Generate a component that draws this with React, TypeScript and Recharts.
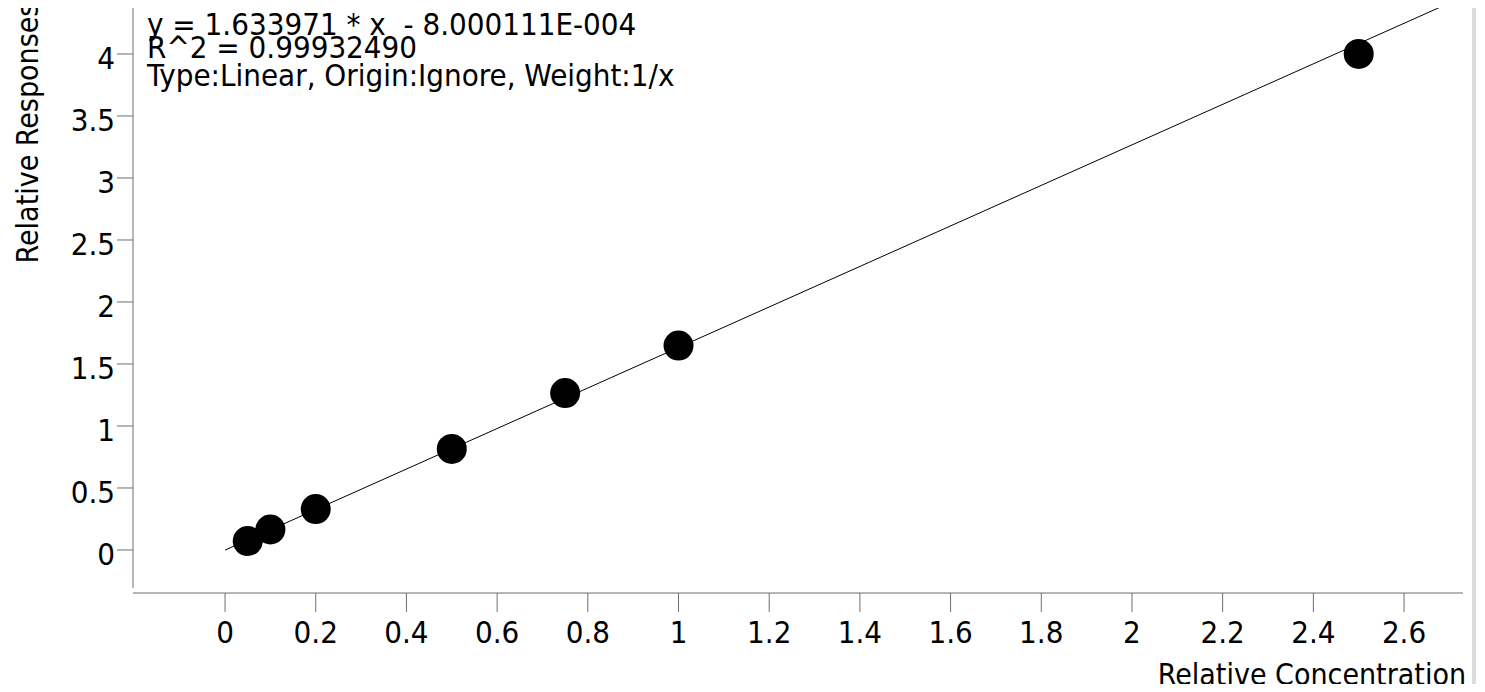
import { ScatterChart, Scatter, XAxis, YAxis, ReferenceLine } from 'recharts';

const concentrations = [0.05, 0.1, 0.2, 0.5, 0.75, 1, 2.5];
const responses = [0.072, 0.165, 0.33, 0.815, 1.265, 1.648, 4.0];
const fitX = [0, 2.68];
const fitY = [-0.0008, 4.378];
const xTicks = [0, 0.2, 0.4, 0.6, 0.8, 1, 1.2, 1.4, 1.6, 1.8, 2, 2.2, 2.4, 2.6];
const yTicks = [0, 0.5, 1, 1.5, 2, 2.5, 3, 3.5, 4];
const fitText = [
    'y = 1.633971 * x  - 8.000111E-004',
    'R^2 = 0.99932490',
    'Type:Linear, Origin:Ignore, Weight:1/x',
];

const points = concentrations.map((x, i) => ({ x, y: responses[i] }));
const fitLine = fitX.map((x, i) => ({ x, y: fitY[i] }));

const font = '"DejaVu Sans Condensed", "DejaVu Sans", sans-serif';
const baselines = [35, 58, 86];

// tick labels drawn by hand so the offsets match the original
const XTick = (p: any) => (
    <text x={p.x} y={643} textAnchor="middle" fontSize={31} fontFamily={font} fill="#000">
        {p.payload.value}
    </text>
);

const YTick = (p: any) => (
    <text x={115} y={p.y + 15} textAnchor="end" fontSize={31} fontFamily={font} fill="#000">
        {p.payload.value}
    </text>
);

export default function App() {
    return (
        <div style={{ position: 'relative', width: 1485, height: 692, margin: -8, background: '#fff' }}>
            <ScatterChart width={1485} height={692} margin={{ top: 5, right: 22, bottom: 0, left: 0 }}>
                <XAxis
                    type="number"
                    dataKey="x"
                    domain={[-0.203, 2.73]}
                    ticks={xTicks}
                    allowDataOverflow
                    height={99}
                    tickSize={19}
                    stroke="#6e6e6e"
                    tick={XTick}
                    label={{
                        content: () => (
                            <text x={1466} y={685} textAnchor="end" fontSize={30} fontFamily={font} fill="#000">
                                Relative Concentration
                            </text>
                        ),
                    }}
                />
                <YAxis
                    type="number"
                    dataKey="y"
                    domain={[-0.347, 4.395]}
                    ticks={yTicks}
                    allowDataOverflow
                    width={133}
                    tickSize={16}
                    axisLine={false}
                    stroke="#6e6e6e"
                    tick={YTick}
                    label={{
                        content: () => (
                            <text
                                x={38}
                                y={133}
                                transform="rotate(-90 38 133)"
                                textAnchor="middle"
                                fontSize={30}
                                fontFamily={font}
                                fill="#000"
                            >
                                Relative Responses
                            </text>
                        ),
                    }}
                />
                {/* y axis line stops short of the x axis, as in the original */}
                <ReferenceLine
                    segment={[{ x: -0.203, y: -0.306 }, { x: -0.203, y: 4.395 }]}
                    stroke="#6e6e6e"
                    ifOverflow="visible"
                />
                <Scatter
                    data={fitLine}
                    line={{ stroke: '#000', strokeWidth: 1 }}
                    shape={() => <g />}
                    isAnimationActive={false}
                />
                <Scatter
                    data={points}
                    shape={(p: any) => <circle cx={p.cx} cy={p.cy} r={15} fill="#000" />}
                    isAnimationActive={false}
                />
            </ScatterChart>
            <svg width={1485} height={692} style={{ position: 'absolute', left: 0, top: 0, pointerEvents: 'none' }}>
                {fitText.map((t, i) => (
                    <text key={t} x={147} y={baselines[i]} fontSize={31} fontFamily={font} fill="#000" style={{ whiteSpace: 'pre' }}>
                        {t}
                    </text>
                ))}
                <rect x={1472} y={0} width={4} height={692} fill="#dcdcdc" />
            </svg>
        </div>
    );
}
